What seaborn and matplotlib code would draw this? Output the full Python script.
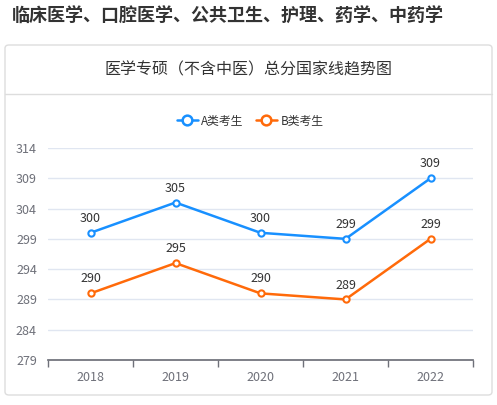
import pandas as pd
import seaborn as sns
import matplotlib.pyplot as plt
from matplotlib.patches import FancyBboxPatch
from matplotlib.lines import Line2D

years = ["2018", "2019", "2020", "2021", "2022"]
score_a = [300, 305, 300, 299, 309]
score_b = [290, 295, 290, 289, 299]
series_names = ["A类考生", "B类考生"]
y_ticks = [279, 284, 289, 294, 299, 304, 309, 314]

blue = "#1890ff"
orange = "#ff6a0a"

sns.set_theme(style="white")
plt.rcParams['font.family'] = ['Noto Sans CJK SC', 'DejaVu Sans']

df = pd.DataFrame({
    "pos": list(range(len(years))) * 2,
    "score": score_a + score_b,
    "series": [series_names[0]] * len(years) + [series_names[1]] * len(years),
})

fig = plt.figure(figsize=(4.97, 4.05), dpi=100)
W, H = 497, 405

# card background
card = FancyBboxPatch((5 / W, 10 / H), 487 / W, 350 / H,
                      boxstyle="round,pad=0,rounding_size=0.008",
                      transform=fig.transFigure, facecolor="white",
                      edgecolor="#dddddd", linewidth=1, zorder=-5)
fig.patches.append(card)
fig.add_artist(Line2D([5 / W, 492 / W], [1 - 94 / H] * 2, color="#dddddd",
                      linewidth=1, transform=fig.transFigure, zorder=-4))

fig.text(12 / W, 1 - 16 / H, "临床医学、口腔医学、公共卫生、护理、药学、中药学",
         fontsize=13, fontweight="bold", color="#333333", va="center")
fig.text(248 / W, 1 - 70 / H, "医学专硕（不含中医）总分国家线趋势图",
         fontsize=11.5, color="#333333", ha="center", va="center")

ax = fig.add_axes([48 / W, 1 - 360 / H, 425 / W, 212 / H], zorder=2)
sns.lineplot(data=df, x="pos", y="score", hue="series",
             palette=[blue, orange], marker="o", markersize=4.5,
             markerfacecolor="white", markeredgewidth=1.5, linewidth=1.8,
             ax=ax, legend=False)
for ln in ax.lines:
    ln.set_markeredgecolor(ln.get_color())
    ln.set_markerfacecolor("white")

for vals in (score_a, score_b):
    for i, v in enumerate(vals):
        ax.text(i, v + 1.3, str(v), ha="center", va="bottom",
                fontsize=9, color="#333333")

ax.set_xlim(-0.5, len(years) - 0.5)
ax.set_ylim(y_ticks[0], y_ticks[-1])
ax.set_yticks(y_ticks)
ax.set_xticks(range(len(years)))
ax.set_xticklabels(years)
ax.set_xticks([i - 0.5 for i in range(len(years) + 1)], minor=True)
ax.grid(axis="y", color="#e0e6f1", linewidth=1)
ax.set_axisbelow(True)
for s in ["top", "right", "left"]:
    ax.spines[s].set_visible(False)
ax.spines["bottom"].set_color("#6e7079")
ax.tick_params(axis="x", which="major", length=0, pad=8, labelsize=9,
               labelcolor="#6e7079")
ax.tick_params(axis="x", which="minor", length=5, color="#6e7079",
               direction="out", bottom=True)
ax.tick_params(axis="y", length=0, pad=8, labelsize=9, labelcolor="#6e7079")
ax.set_xlabel("")
ax.set_ylabel("")
ax.patch.set_alpha(0)

handles = [Line2D([], [], color=c, marker="o", markersize=7,
                  markerfacecolor="white", markeredgewidth=1.8, linewidth=1.8)
           for c in (blue, orange)]
fig.legend(handles, series_names, loc="center", bbox_to_anchor=(250 / W, 1 - 121 / H),
           ncol=2, frameon=False, fontsize=8.5, handlelength=1.8,
           columnspacing=1.0, handletextpad=0.3, labelcolor="#333333")

fig.savefig("out.png", dpi=100)
